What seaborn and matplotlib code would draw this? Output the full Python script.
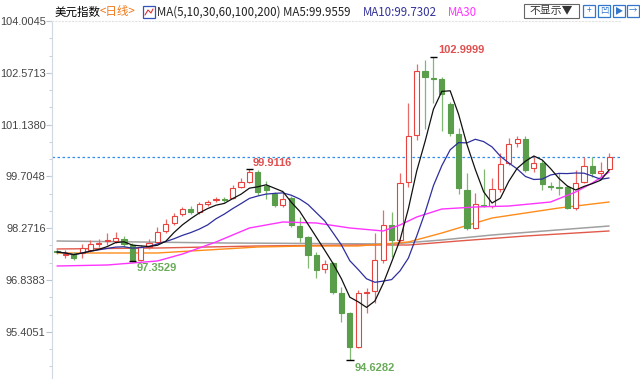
import numpy as np
import pandas as pd
import matplotlib
matplotlib.use("Agg")
import matplotlib.pyplot as plt
import seaborn as sns
from matplotlib.ticker import FixedLocator, AutoMinorLocator
from matplotlib.patches import Rectangle

# daily candles
opens = [97.640, 97.530, 97.557, 97.585, 97.668, 97.834, 97.917, 97.917, 97.972, 97.806,
         97.390, 97.751, 97.889, 98.194, 98.415, 98.664, 98.802, 98.719, 98.941, 99.052,
         99.079, 99.107, 99.411, 99.550, 99.826, 99.439, 99.218, 98.913, 99.107, 98.332,
         98.028, 97.530, 97.142, 97.308, 96.478, 95.925, 94.984, 96.478, 96.534, 97.391,
         98.360, 97.945, 99.550, 100.850, 102.621, 102.427, 102.400, 101.708, 100.878, 99.328,
         98.277, 98.913, 98.885, 99.356, 100.075, 100.629, 100.740, 99.937, 100.075, 99.439,
         99.411, 99.411, 98.830, 99.550, 99.992, 99.799, 99.909]
closes = [97.613, 97.557, 97.447, 97.723, 97.834, 97.862, 97.945, 98.000, 97.834, 97.380,
          97.751, 97.862, 98.166, 98.387, 98.609, 98.802, 98.719, 98.941, 98.996, 99.079,
          99.052, 99.384, 99.550, 99.826, 99.273, 99.328, 98.913, 99.079, 98.360, 98.028,
          97.530, 97.115, 97.281, 96.506, 95.925, 94.984, 96.478, 96.506, 97.391, 98.360,
          97.945, 99.522, 100.823, 102.621, 102.455, 102.400, 101.985, 100.906, 99.384, 98.277,
          98.941, 98.885, 99.356, 100.048, 100.601, 100.740, 99.882, 100.075, 99.494, 99.411,
          99.384, 98.830, 99.522, 99.992, 99.799, 99.854, 100.250]
highs = [97.696, 97.668, 97.613, 97.834, 97.945, 97.972, 98.138, 98.166, 98.055, 97.862,
         97.806, 97.972, 98.304, 98.526, 98.692, 98.858, 98.885, 98.996, 99.052, 99.135,
         99.135, 99.467, 99.660, 99.9116, 99.882, 99.577, 99.273, 99.245, 99.162, 98.581,
         98.055, 97.613, 97.391, 97.336, 96.644, 95.952, 96.561, 96.617, 98.138, 98.775,
         98.719, 99.799, 101.736, 102.815, 102.926, 102.9999, 102.455, 101.764, 101.044, 99.799,
         99.245, 99.910, 99.660, 100.352, 100.768, 100.823, 100.823, 100.241, 100.158, 99.550,
         99.799, 99.467, 99.882, 100.241, 100.241, 100.103, 100.352]
lows = [97.557, 97.447, 97.391, 97.447, 97.613, 97.751, 97.806, 97.862, 97.751, 97.3529,
        97.360, 97.696, 97.862, 98.138, 98.360, 98.609, 98.664, 98.664, 98.885, 98.996,
        98.996, 99.079, 99.384, 99.522, 99.190, 99.079, 98.858, 98.858, 98.304, 97.889,
        97.170, 96.893, 97.032, 96.450, 95.676, 94.6282, 94.956, 95.925, 96.201, 97.308,
        97.474, 97.889, 99.411, 100.712, 101.007, 101.736, 100.951, 100.823, 99.218, 98.221,
        98.249, 98.858, 98.830, 99.273, 100.020, 100.518, 99.826, 99.826, 99.328, 99.328,
        99.190, 98.802, 98.775, 99.522, 99.688, 99.688, 99.882]

# longer moving averages, read at a few candles
ma30_at = [0, 6, 12, 15, 19, 23, 27, 31, 35, 39, 41, 43, 46, 50, 54, 59, 62, 64, 66]
ma30_val = [97.225, 97.253, 97.364, 97.557, 97.889, 98.277, 98.443, 98.415, 98.277, 98.194,
            98.360, 98.581, 98.802, 98.858, 98.885, 98.996, 99.273, 99.522, 99.826]
ma60_at = [0, 12, 18, 24, 30, 36, 42, 46, 48, 52, 56, 60, 66]
ma60_val = [97.585, 97.585, 97.668, 97.751, 97.779, 97.779, 97.889, 98.138, 98.277, 98.553,
            98.692, 98.830, 98.996]
ma100_at = [0, 12, 24, 36, 42, 48, 56, 66]
ma100_val = [97.696, 97.723, 97.779, 97.806, 97.806, 97.917, 98.055, 98.194]
ma200_at = [0, 20, 40, 46, 52, 66]
ma200_val = [97.917, 97.862, 97.834, 97.945, 98.083, 98.332]

y_ticks = [95.4051, 96.8383, 98.2716, 99.7048, 101.1380, 102.5713, 104.0045]
y_tick_labels = ["95.4051", "96.8383", "98.2716", "99.7048", "101.1380", "102.5713", "104.0045"]

UP = "#e8423f"
DOWN = "#5a9e4b"

df = pd.DataFrame({"open": opens, "close": closes, "high": highs, "low": lows})
df["i"] = np.arange(len(df))
df["ma5"] = df["close"].rolling(5, min_periods=1).mean()
df["ma10"] = df["close"].rolling(10, min_periods=1).mean()
up = df["close"] >= df["open"]

sns.set_style("white")
plt.rcParams["font.family"] = ["DejaVu Sans"]

W, H = 640, 380
fig = plt.figure(figsize=(W / 100, H / 100), dpi=100)
ax = fig.add_axes([52 / W, 1 - 378 / H, 568 / W, 357 / H])

# long MAs first (behind the candles)
sns.lineplot(x=ma200_at, y=ma200_val, ax=ax, color="#a0a0a0", linewidth=1.1, zorder=1)
sns.lineplot(x=ma100_at, y=ma100_val, ax=ax, color="#e05a4a", linewidth=1.0, zorder=1)
sns.lineplot(x=ma60_at, y=ma60_val, ax=ax, color="#ff8c1a", linewidth=1.0, zorder=1)

# candles
wick_col = np.where(up, "#e86b68", "#7fb870")
ax.vlines(df["i"], df["low"], df["high"], colors=wick_col, linewidth=0.9, zorder=2)
body_bot = df[["open", "close"]].min(axis=1)
body_h = (df["close"] - df["open"]).abs().clip(lower=0.02)
ax.bar(df["i"], body_h, bottom=body_bot, width=0.62,
       color=np.where(up, "white", DOWN), edgecolor=np.where(up, UP, DOWN),
       linewidth=0.8, zorder=3)

sns.lineplot(x=ma30_at, y=ma30_val, ax=ax, color="#ff33ff", linewidth=1.0, zorder=4)
sns.lineplot(data=df, x="i", y="ma10", ax=ax, color="#2e2e9e", linewidth=0.9, zorder=4)
sns.lineplot(data=df, x="i", y="ma5", ax=ax, color="#111111", linewidth=0.9, zorder=5)

# current price line
ax.axhline(closes[-1], color="#2f8ff0", linewidth=0.9, linestyle=(0, (2, 2)), zorder=1)

# extremes
i_hi = int(np.argmax(highs))
i_lo = int(np.argmin(lows))
marks = [
    (i_hi, highs[i_hi], f"{highs[i_hi]:.4f}", (5, 7), "#e05050"),
    (23, highs[23], f"{highs[23]:.4f}", (3, 6), "#e05050"),
    (9, lows[9], f"{lows[9]:.4f}", (4, -7), "#6aaa5a"),
    (i_lo, lows[i_lo], f"{lows[i_lo]:.4f}", (5, -8), "#6aaa5a"),
]
for i, v, s, off, c in marks:
    ax.hlines(v, i - 0.45, i + 0.45, color="black", linewidth=1.0, zorder=6)
    ax.annotate(s, (i, v), xytext=off, textcoords="offset pixels", ha="left", va="center",
                color=c, fontsize=8, fontweight="bold", family=["Liberation Sans"])

ax.set_xlim(-0.6, 67.3)
ax.set_ylim(94.126, 104.0045)
ax.set_xticks([])
ax.yaxis.set_major_locator(FixedLocator(y_ticks))
ax.set_yticklabels(y_tick_labels, family=["Liberation Sans"])
ax.yaxis.set_minor_locator(AutoMinorLocator(3))
ax.tick_params(axis="y", which="major", length=4, width=0.8, color="#b8c4d0",
               labelsize=7.9, labelcolor="#444444", pad=0.5, left=True)
ax.tick_params(axis="y", which="minor", length=2, width=0.8, color="#c8d2dc", left=True)
ax.set_xlabel("")
ax.set_ylabel("")
for side in ["right", "bottom"]:
    ax.spines[side].set_visible(False)
ax.spines["left"].set_color("#d0d8e2")
ax.spines["left"].set_linewidth(0.8)
ax.spines["top"].set_color("#e2e2e2")
ax.spines["top"].set_linestyle((0, (1, 2)))
ax.spines["top"].set_linewidth(0.8)

# header
cjk = ["Noto Sans CJK SC", "DejaVu Sans"]
hy = 1 - 12 / H
fig.text(55 / W, hy, "美元指数", family=cjk, fontsize=8.3, color="black", va="center")
fig.text(100 / W, hy, "<日线>", family=cjk, fontsize=8.3, color="#f07818", va="center")
fig.text(157 / W, hy, "MA(5,10,30,60,100,200) MA5:99.9559", family=cjk, fontsize=8.3,
         color="#222222", va="center")
fig.text(363 / W, hy, "MA10:99.7302", family=cjk, fontsize=8.3, color="#333399", va="center")
fig.text(448 / W, hy, "MA30", family=cjk, fontsize=8.3, color="#ff33ff", va="center")

# small icon next to the MA text
fig.patches.append(Rectangle((143 / W, 1 - 18 / H), 12 / W, 12 / H, transform=fig.transFigure,
                             facecolor="white", edgecolor="#3355bb", linewidth=0.9))
fig.lines.append(plt.Line2D([145 / W, 148 / W, 151 / W, 153 / W],
                            [1 - 15 / H, 1 - 10 / H, 1 - 13 / H, 1 - 9 / H],
                            transform=fig.transFigure, color="#dd3333", linewidth=0.8))

# right-hand buttons
fig.patches.append(Rectangle((524 / W, 1 - 18 / H), 55 / W, 14 / H, transform=fig.transFigure,
                             facecolor="white", edgecolor="#666666", linewidth=0.8))
fig.text(551 / W, 1 - 11 / H, "不显示▼", family=cjk, fontsize=7.8, color="#333333",
         ha="center", va="center")
for bx, glyph in zip([583, 598, 613, 627], ["+", "凹", "▶", "→"]):
    fig.patches.append(Rectangle((bx / W, 1 - 17 / H), 12 / W, 12 / H, transform=fig.transFigure,
                                 facecolor="white", edgecolor="#3377cc", linewidth=0.9))
    fig.text((bx + 6) / W, 1 - 11 / H, glyph, family=cjk, fontsize=6, color="#3377cc",
             ha="center", va="center")

fig.savefig("out.png", dpi=100)
